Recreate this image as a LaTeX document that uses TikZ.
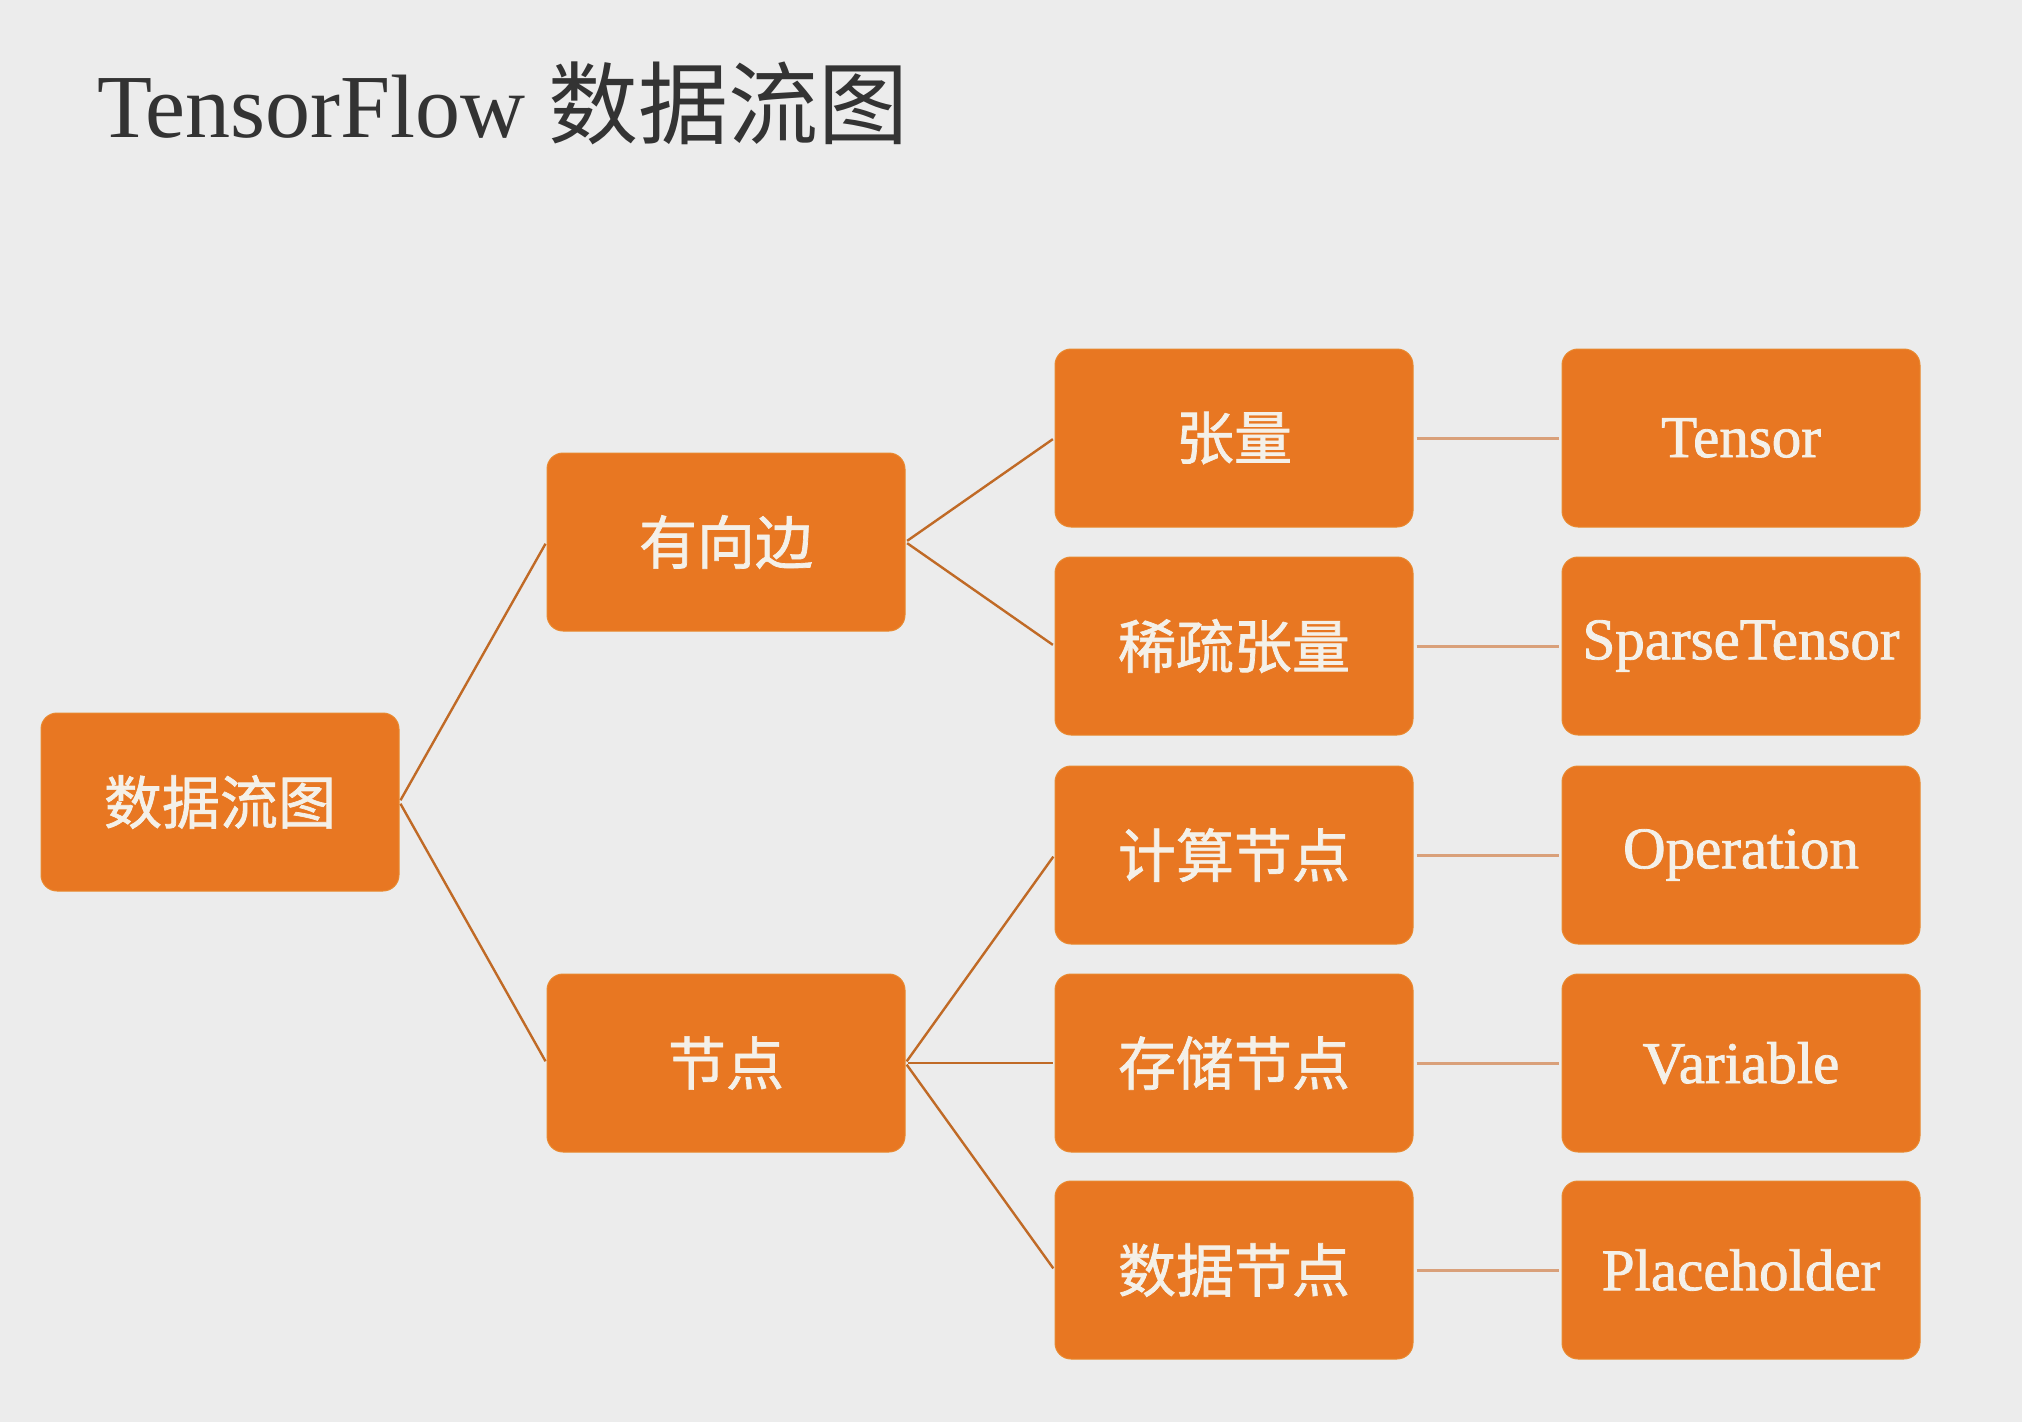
\documentclass[tikz,border=0pt]{standalone}
\usepackage{fontspec}
\setmainfont{Liberation Serif}
\newfontfamily\cjk{Noto Sans CJK SC}
\newfontfamily\cjkbox[FakeBold=1.2]{Noto Sans CJK SC}
\newfontfamily\enbox[FakeBold=1.4]{Liberation Serif}
\definecolor{bg}{HTML}{ECECEC}
\definecolor{boxorange}{HTML}{E87722}
\definecolor{boxedge}{HTML}{E9892F}
\definecolor{boxtext}{HTML}{F4F0E8}
\definecolor{diagline}{HTML}{C06A26}
\definecolor{horline}{HTML}{D9A07A}
\definecolor{titlecol}{HTML}{333333}
\begin{document}
\begin{tikzpicture}[x=1pt,y=-1pt,
  box/.style={rectangle, rounded corners=16pt, fill=boxorange, draw=boxedge, line width=1pt,
    minimum width=358pt, minimum height=178pt, inner sep=0pt, text=boxtext},
  zh/.style={font=\cjkbox\fontsize{58}{62}\selectfont},
  en/.style={font=\enbox\fontsize{59}{62}\selectfont},
  diag/.style={draw=diagline, line width=2.4pt, shorten <=2pt, shorten >=2pt},
  hor/.style={draw=horline, line width=3pt, shorten <=3pt, shorten >=3pt}]
\fill[bg] (0,0) rectangle (2022,1422);
\useasboundingbox (0,0) rectangle (2022,1422);
\node[anchor=base west, inner sep=0pt, text=titlecol, font=\fontsize{90}{96}\selectfont] (title) at (97,137) {TensorFlow {\cjk 数据流图}};
% column 1
\node[box, zh] (root) at (220,802) {数据流图};
% column 2
\node[box, zh] (edge) at (726,542) {有向边};
\node[box, zh] (node) at (726,1063) {节点};
% column 3
\node[box, zh] (t) at (1234,438) {张量};
\node[box, zh] (st) at (1234,646) {稀疏张量};
\node[box, zh] (op) at (1234,855) {计算节点};
\node[box, zh] (var) at (1234,1063) {存储节点};
\node[box, zh] (ph) at (1234,1270) {数据节点};
% column 4
\node[box, en] (te) at (1741,438) {Tensor};
\node[box, en] (ste) at (1741,646) {SparseTensor};
\node[box, en] (ope) at (1741,855) {Operation};
\node[box, en] (vare) at (1741,1063) {Variable};
\node[box, en] (phe) at (1741,1270) {Placeholder};
% connectors
\draw[diag] (root.east) -- (edge.west);
\draw[diag] (root.east) -- (node.west);
\draw[diag] (edge.east) -- (t.west);
\draw[diag] (edge.east) -- (st.west);
\draw[diag] (node.east) -- (op.west);
\draw[diag] (node.east) -- (var.west);
\draw[diag] (node.east) -- (ph.west);
\draw[hor] (t.east) -- (te.west);
\draw[hor] (st.east) -- (ste.west);
\draw[hor] (op.east) -- (ope.west);
\draw[hor] (var.east) -- (vare.west);
\draw[hor] (ph.east) -- (phe.west);
\end{tikzpicture}
\end{document}
